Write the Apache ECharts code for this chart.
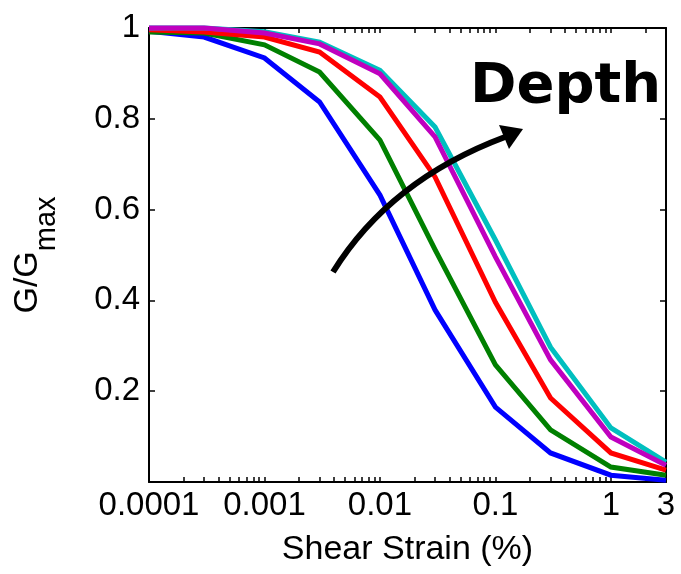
<!DOCTYPE html>
<html>
<head>
<meta charset="utf-8">
<script src="https://cdn.jsdelivr.net/npm/echarts@6/dist/echarts.min.js"></script>
<style>
  html, body { margin: 0; padding: 0; background: #fff; }
  #chart { width: 681px; height: 574px; }
</style>
</head>
<body>
<div id="chart"></div>
<script>
// shear strain (%) at which G/Gmax was read
const strain = [0.0001, 0.0003, 0.001, 0.003, 0.01, 0.03, 0.1, 0.3, 1, 3]

// modulus reduction curves, shallow -> deep
const blue = [0.993, 0.980, 0.934, 0.837, 0.632, 0.379, 0.165, 0.064, 0.015, 0.004]
const green = [0.991, 0.989, 0.963, 0.903, 0.753, 0.512, 0.258, 0.115, 0.033, 0.015]
const red = [0.996, 0.991, 0.980, 0.947, 0.848, 0.672, 0.396, 0.185, 0.064, 0.026]
const cyan = [1.0, 1.0, 0.992, 0.969, 0.907, 0.782, 0.533, 0.297, 0.119, 0.044]
const magenta = [1.0, 1.0, 0.989, 0.965, 0.899, 0.760, 0.496, 0.269, 0.099, 0.037]

const xLabels = [0.0001, 0.001, 0.01, 0.1, 1, 3]
const xMinorTicks = []
for (const d of [0.0001, 0.001, 0.01, 0.1]) {
  for (let k = 1; k <= 9; k++) xMinorTicks.push(+(d * k).toPrecision(3))
}
xMinorTicks.push(1, 2, 3)

const font = 'Liberation Sans'

function line(name, data, color) {
  return {
    name,
    type: 'line',
    data: strain.map((s, i) => [s, data[i]]),
    symbol: 'none',
    clip: false,
    lineStyle: { color, width: 5, join: 'miter' },
  }
}

const xBase = {
  type: 'log',
  logBase: 10,
  min: 0.0001,
  max: 3,
  axisLine: { show: true, onZero: false, lineStyle: { color: '#000', width: 2 } },
  axisTick: { show: true, inside: true, length: 5, customValues: xMinorTicks, lineStyle: { color: '#000', width: 1.5 } },
  splitLine: { show: false },
  minorTick: { show: false },
}

const yBase = {
  type: 'value',
  min: 0,
  max: 1,
  interval: 0.2,
  axisLine: { show: true, lineStyle: { color: '#000', width: 2 } },
  axisTick: { show: true, inside: true, length: 6, lineStyle: { color: '#000', width: 1.5 } },
  splitLine: { show: false },
}

const chart = echarts.init(document.getElementById('chart'))
chart.setOption({
  animation: false,
  backgroundColor: '#fff',
  grid: { left: 149, right: 15, top: 28, bottom: 92 },
  xAxis: [
    {
      ...xBase,
      position: 'bottom',
      name: 'Shear Strain (%)',
      nameLocation: 'middle',
      nameGap: 51,
      nameTextStyle: { fontFamily: font, fontSize: 34, color: '#000' },
      axisLabel: {
        show: true,
        margin: 7,
        fontFamily: font,
        fontSize: 33,
        color: '#000',
        customValues: xLabels,
        formatter: (v) => String(v),
      },
    },
    { ...xBase, position: 'top', axisLabel: { show: false } },
  ],
  yAxis: [
    {
      ...yBase,
      position: 'left',
      name: '{a|G/G}{b|max}',
      nameLocation: 'middle',
      nameGap: 104,
      nameTextStyle: {
        color: '#000',
        rich: {
          a: { fontFamily: font, fontSize: 34, lineHeight: 34, verticalAlign: 'top', color: '#000' },
          b: { fontFamily: font, fontSize: 29, lineHeight: 29, verticalAlign: 'top', padding: [21, 0, 0, 0], color: '#000' },
        },
      },
      axisLabel: {
        margin: 9,
        fontFamily: font,
        fontSize: 33,
        color: '#000',
        formatter: (v) => (v === 0 ? '' : String(+v.toFixed(1))),
      },
    },
    { ...yBase, position: 'right', axisLabel: { show: false } },
  ],
  series: [
    line('1', blue, '#0000ff'),
    line('2', green, '#008000'),
    line('3', red, '#ff0000'),
    line('5', cyan, '#00bfbf'),
    line('4', magenta, '#bf00bf'),
  ],
  graphic: [
    {
      type: 'bezierCurve',
      shape: { x1: 333, y1: 272, cpx1: 390, cpy1: 180, x2: 505, y2: 137 },
      style: { stroke: '#000', lineWidth: 6, fill: null },
      z: 100,
    },
    {
      type: 'polygon',
      shape: { points: [[523, 129], [499, 125], [509, 149]] },
      style: { fill: '#000' },
      z: 100,
    },
    {
      type: 'text',
      x: 470,
      y: 87,
      style: {
        text: 'Depth',
        font: 'bold 56px "DejaVu Sans"',
        fill: '#000',
        verticalAlign: 'middle',
      },
      z: 100,
    },
  ],
})
</script>
</body>
</html>
